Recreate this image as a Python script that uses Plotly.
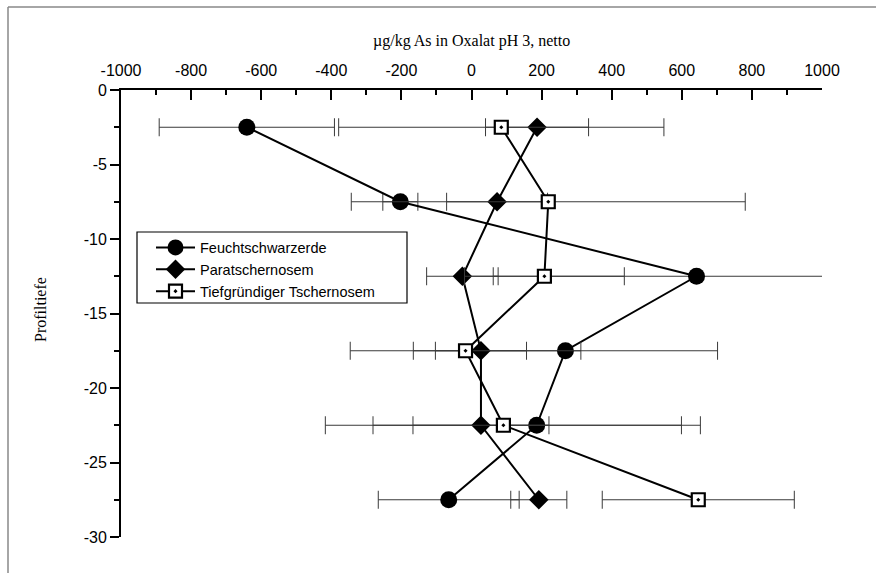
import plotly.graph_objects as go

# ---- data ----
depth = [-2.5, -7.5, -12.5, -17.5, -22.5, -27.5]

feucht_x = [-641, -203, 642, 268, 186, -65]
feucht_err = [250, 50, 580, 434, 467, 201]

para_x = [187, 73, -26, 27, 27, 192]
para_err = [147, 144, 102, 130, 194, 80]

tief_x = [85, 219, 208, -17, 91, 647]
tief_err = [464, 562, 228, 329, 508, 274]

names = ["Feuchtschwarzerde", "Paratschernosem", "Tiefgründiger Tschernosem"]

x_tickvals = [-1000, -800, -600, -400, -200, 0, 200, 400, 600, 800, 1000]
x_ticktext = ["-1000", "-800", "-600", "-400", "-200", "0", "200", "400", "600", "800", "1000"]
y_tickvals = [0, -5, -10, -15, -20, -25, -30]
y_ticktext = ["0", "-5", "-10", "-15", "-20", "-25", "-30"]

x_title = "µg/kg As in Oxalat pH 3, netto"
y_title = "Profiltiefe"

# ---- figure ----
SANS = "Arial, Liberation Sans, sans-serif"
SERIF = "Times New Roman, Liberation Serif, serif"
ERR_COLOR = "#3a3a3a"

fig = go.Figure()

def add_series(xv, err, name, symbol, size, fill, lw):
    fig.add_trace(go.Scatter(
        x=xv, y=depth, name=name, mode="lines+markers",
        line=dict(color="black", width=2),
        marker=dict(symbol=symbol, size=size, color=fill,
                    line=dict(color="black", width=lw)),
        error_x=dict(type="data", array=err, visible=True,
                     color=ERR_COLOR, thickness=1, width=9),
    ))

add_series(feucht_x, feucht_err, names[0], "circle", 17, "black", 0)
add_series(para_x, para_err, names[1], "diamond", 15, "black", 0)
add_series(tief_x, tief_err, names[2], "square-dot", 13, "white", 2.2)

W, H = 876, 573
L, R, T, B = 121, 54, 90, 36
pw, ph = W - L - R, H - T - B

def px2paper_x(px):
    return (px - L) / pw

def px2paper_y(py):
    return (H - B - py) / ph

fig.update_layout(
    width=W, height=H,
    margin=dict(l=L, r=R, t=T, b=B, pad=0),
    paper_bgcolor="white", plot_bgcolor="white",
    showlegend=True,
    legend=dict(
        x=px2paper_x(151), y=px2paper_y(231.5), xanchor="left", yanchor="top",
        bgcolor="rgba(0,0,0,0)", borderwidth=0,
        font=dict(family=SANS, size=14.5, color="black"),
        tracegroupgap=0, itemwidth=39,
    ),
    xaxis=dict(
        side="top", range=[-1000, 1000],
        tickmode="array", tickvals=x_tickvals, ticktext=x_ticktext,
        showgrid=False, zeroline=False,
        showline=True, linecolor="black", linewidth=1.8,
        ticks="inside", ticklen=10, tickwidth=1.5, tickcolor="black",
        minor=dict(dtick=100, tick0=0, ticks="inside", ticklen=5, tickwidth=1.5,
                   tickcolor="black", showgrid=False),
        tickfont=dict(family=SANS, size=16, color="black"),
        ticklabelstandoff=6,
    ),
    yaxis=dict(
        range=[-30, 0],
        tickmode="array", tickvals=y_tickvals, ticktext=y_ticktext,
        showgrid=False, zeroline=False,
        showline=True, linecolor="black", linewidth=1.8,
        ticks="outside", ticklen=9, tickwidth=1.5, tickcolor="black",
        minor=dict(dtick=2.5, tick0=0, ticks="outside", ticklen=5, tickwidth=1.5,
                   tickcolor="black", showgrid=False),
        tickfont=dict(family=SANS, size=16, color="black"),
    ),
    annotations=[
        dict(text=x_title, xref="paper", yref="paper",
             x=0.5, y=px2paper_y(41), xanchor="center", yanchor="middle",
             showarrow=False, font=dict(family=SERIF, size=16, color="black")),
        dict(text=y_title, xref="paper", yref="paper", textangle=-90,
             x=px2paper_x(40), y=px2paper_y(310), xanchor="center", yanchor="middle",
             showarrow=False, font=dict(family=SERIF, size=16, color="black")),
    ],
    shapes=[
        # page frame (top and left edges)
        dict(type="line", xref="paper", yref="paper",
             x0=px2paper_x(8), x1=px2paper_x(W + 5), y0=px2paper_y(7), y1=px2paper_y(7),
             line=dict(color="#888888", width=1.5)),
        dict(type="line", xref="paper", yref="paper",
             x0=px2paper_x(8), x1=px2paper_x(8), y0=px2paper_y(7), y1=px2paper_y(H + 5),
             line=dict(color="#888888", width=1.5)),
        # legend frame
        dict(type="rect", xref="paper", yref="paper", layer="above",
             x0=px2paper_x(137), x1=px2paper_x(407),
             y0=px2paper_y(303), y1=px2paper_y(232),
             fillcolor="white", line=dict(color="black", width=1.2)),
    ],
)

fig.write_html("out.html",
               config={"displayModeBar": False},
               post_script="document.body.style.margin='0';document.body.style.overflow='hidden';")
